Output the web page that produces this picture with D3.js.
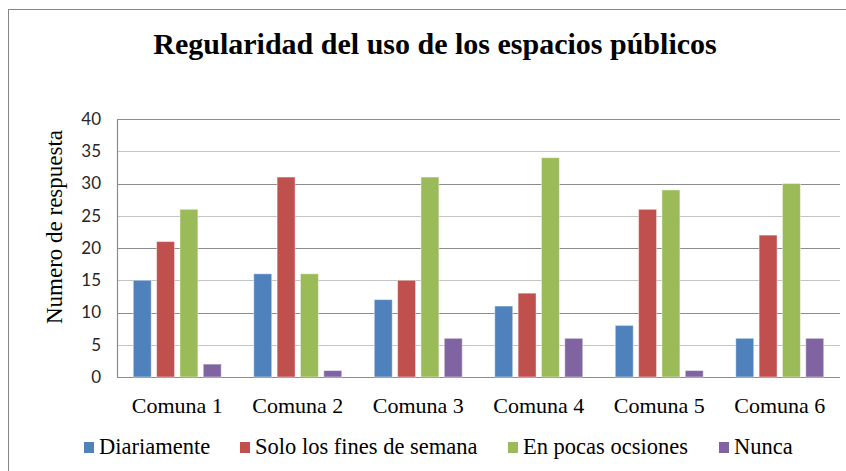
<!DOCTYPE html>
<html>
<head>
<meta charset="utf-8">
<script src="https://cdn.jsdelivr.net/npm/d3@7"></script>
<style>
  html, body { margin: 0; padding: 0; background: #fff; }
  svg { display: block; }
</style>
</head>
<body>
<svg id="chart" width="846" height="471"></svg>
<script>
// Survey counts per commune and frequency of use
const comunas = ["Comuna 1", "Comuna 2", "Comuna 3", "Comuna 4", "Comuna 5", "Comuna 6"];
const series = ["Diariamente", "Solo los fines de semana", "En pocas ocsiones", "Nunca"];
const diariamente = [15, 16, 12, 11, 8, 6];
const finesDeSemana = [21, 31, 15, 13, 26, 22];
const pocasOcasiones = [26, 16, 31, 34, 29, 30];
const nunca = [2, 1, 6, 6, 1, 6];
const yTicks = [0, 5, 10, 15, 20, 25, 30, 35, 40];
const colors = ["#4F81BD", "#C0504D", "#9BBB59", "#8064A2"];

const valuesBySeries = [diariamente, finesDeSemana, pocasOcasiones, nunca];

const serif = "'Liberation Serif', 'Times New Roman', serif";
const svg = d3.select("#chart");
const plot = { left: 117, right: 840, top: 119, bottom: 377 };

// outer chart frame
svg.append("rect")
  .attr("x", 8.5).attr("y", 9.5)
  .attr("width", 860).attr("height", 480)
  .attr("fill", "#fff").attr("stroke", "#868686").attr("stroke-width", 1);

// title
svg.append("text")
  .attr("x", 435).attr("y", 54)
  .attr("text-anchor", "middle")
  .attr("font-family", serif)
  .attr("font-weight", "bold")
  .attr("font-size", 30)
  .attr("fill", "#000")
  .text("Regularidad del uso de los espacios públicos");

const y = d3.scaleLinear().domain([0, 40]).range([plot.bottom, plot.top]);
const x0 = d3.scaleBand().domain(comunas).range([plot.left, plot.right]).paddingInner(0.27).paddingOuter(0.135);
const x1 = d3.scaleBand().domain(series).range([0, x0.bandwidth()]).paddingInner(0.23).paddingOuter(0);

// gridlines
svg.append("g")
  .selectAll("line")
  .data(yTicks)
  .join("line")
  .attr("x1", plot.left).attr("x2", plot.right)
  .attr("y1", d => Math.round(y(d)) + 0.5).attr("y2", d => Math.round(y(d)) + 0.5)
  .attr("stroke", (d, i) => i % 2 === 0 ? "#8c8c8c" : "#c4c4c4")
  .attr("stroke-width", 1.2);

// y axis
const yAxis = svg.append("g")
  .attr("transform", `translate(${plot.left},0)`)
  .call(d3.axisLeft(y).tickValues(yTicks).tickSize(0).tickPadding(16));
yAxis.select(".domain").attr("stroke", "#8c8c8c").attr("stroke-width", 1.2);
yAxis.selectAll("text")
  .attr("font-family", "Lato, 'Open Sans', sans-serif")
  .attr("font-size", 17)
  .attr("fill", "#262626");

// y axis title
svg.append("text")
  .attr("transform", `translate(62,${(plot.top + plot.bottom) / 2 - 21}) rotate(-90)`)
  .attr("text-anchor", "middle")
  .attr("font-family", serif)
  .attr("font-size", 23)
  .attr("fill", "#000")
  .text("Numero de respuesta");

// bars
const groups = svg.append("g")
  .selectAll("g")
  .data(comunas)
  .join("g")
  .attr("transform", d => `translate(${x0(d)},0)`);

groups.selectAll("rect")
  .data((c, ci) => series.map((s, si) => ({ s, si, v: valuesBySeries[si][ci] })))
  .join("rect")
  .attr("x", d => x1(d.s))
  .attr("y", d => y(d.v))
  .attr("width", x1.bandwidth())
  .attr("height", d => y(0) - y(d.v))
  .attr("fill", d => colors[d.si])
  .attr("stroke", "rgba(255,255,255,0.45)")
  .attr("stroke-width", 1);

// x axis labels
const xAxis = svg.append("g")
  .attr("transform", `translate(0,${plot.bottom})`)
  .call(d3.axisBottom(x0).tickSize(0).tickPadding(20));
xAxis.select(".domain").remove();
xAxis.selectAll("text")
  .attr("font-family", serif)
  .attr("font-size", 22)
  .attr("fill", "#000");

// legend
const legendX = [84, 240, 508, 719];
const legend = svg.append("g")
  .selectAll("g")
  .data(series)
  .join("g")
  .attr("transform", (d, i) => `translate(${legendX[i]},447)`);
legend.append("rect")
  .attr("x", 0).attr("y", -5)
  .attr("width", 10).attr("height", 11)
  .attr("fill", (d, i) => colors[i]);
legend.append("text")
  .attr("x", 15).attr("y", 7)
  .attr("font-family", serif)
  .attr("font-size", 22.5)
  .attr("fill", "#000")
  .text(d => d);
</script>
</body>
</html>
